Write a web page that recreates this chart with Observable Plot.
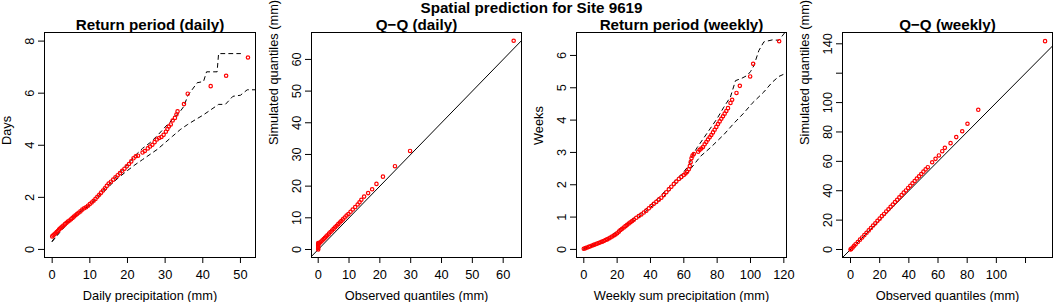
<!DOCTYPE html>
<html><head><meta charset="utf-8">
<script src="https://cdn.jsdelivr.net/npm/d3@7"></script>
<script src="https://cdn.jsdelivr.net/npm/@observablehq/plot@0.6"></script>
<style>
body{margin:0;background:#fff;}
#wrap{position:relative;width:1063px;height:302px;font-family:"Liberation Sans",Arial,sans-serif;}
#main{position:absolute;left:0;top:0;width:1063px;text-align:center;font-weight:bold;font-size:15.2px;line-height:1;z-index:5;}
.panel{position:absolute;top:0;}
</style></head><body>
<div id="wrap"></div>
<script>
// ---------- Titles / labels ----------
const mainTitle = "Spatial prediction for Site 9619";
const panelTitles = ["Return period (daily)", "Q\u2212Q (daily)", "Return period (weekly)", "Q\u2212Q (weekly)"];
const xLabels = ["Daily precipitation (mm)", "Observed quantiles (mm)", "Weekly sum precipitation (mm)", "Observed quantiles (mm)"];
const yLabels = ["Days", "Simulated quantiles (mm)", "Weeks", "Simulated quantiles (mm)"];

// ---------- Ticks ----------
const p1XTicks = [0, 10, 20, 30, 40, 50];
const p1YTicks = [0, 2, 4, 6, 8];
const p2XTicks = [0, 10, 20, 30, 40, 50, 60];
const p2YTicks = [0, 10, 20, 30, 40, 50, 60];
const p3XTicks = [0, 20, 40, 60, 80, 100, 120];
const p3YTicks = [0, 1, 2, 3, 4, 5, 6];
const p4XTicks = [0, 20, 40, 60, 80, 100, 120];
const p4XTickLabels = [0, 20, 40, 60, 80, 100];
const p4YTicks = [0, 20, 40, 60, 80, 100, 120, 140];
const p4YTickLabels = [0, 20, 40, 60, 80, 100, 140];

// ---------- Panel 1: return period (daily) ----------
const p1Precip = [0.0,0.3,0.6,0.9,1.2,1.5,1.8,2.1,2.4,2.7,3.0,3.4,3.8,4.2,4.6,5.0,5.4,5.8,6.2,6.6,7.0,7.5,8.0,8.5,9.0,9.5,10.0,10.5,11.0,11.5,12.0,12.5,13.0,13.5,14.0,14.5,15.0,15.6,16.2,16.8,17.4,18.0,18.6,19.2,19.8,20.4,21.0,21.6,22.2,22.8,24.0,24.6,25.4,26.0,26.6,27.2,27.8,28.4,29.0,29.6,30.2,30.6,31.0,31.5,32.0,32.6,33.0,33.3,35.0,36.0,42.1,46.2,52.0];
const p1Days = [0.50,0.54,0.58,0.62,0.67,0.71,0.76,0.80,0.84,0.88,0.92,0.97,1.02,1.07,1.11,1.16,1.21,1.26,1.31,1.36,1.41,1.46,1.53,1.58,1.62,1.68,1.74,1.80,1.87,1.94,2.02,2.10,2.18,2.26,2.35,2.44,2.53,2.60,2.68,2.77,2.85,2.93,3.02,3.10,3.19,3.28,3.38,3.50,3.58,3.60,3.72,3.78,3.88,3.95,4.02,4.12,4.22,4.28,4.32,4.40,4.52,4.62,4.72,4.80,4.95,5.05,5.18,5.30,5.58,5.98,6.27,6.67,7.37];
const p1UpperX = [0,2,4,6,8,10,12,14,16,18,20,22,24,26,28,30,32,34,35,36,38.5,40.2,41,43.8,44.2,50];
const p1UpperY = [0.32,0.70,1.02,1.30,1.53,1.73,2.00,2.35,2.65,2.95,3.25,3.60,3.88,4.10,4.38,4.70,5.00,5.30,5.50,5.90,6.40,6.45,6.82,6.82,7.52,7.52];
const p1LowerX = [0,2,4,6,8,10,12,14,16,18,20,22,24,26,28,30,32,34,36,38,40,42,44.2,46,48,50,51.8,54];
const p1LowerY = [0.30,0.65,0.98,1.26,1.50,1.70,1.95,2.25,2.55,2.80,3.03,3.25,3.45,3.65,3.85,4.10,4.35,4.60,4.80,4.98,5.15,5.35,5.57,5.57,5.88,5.92,6.13,6.13];

// ---------- Panel 2: Q-Q (daily) ----------
const p2Obs = [0,0,0,0,0,0,0.3,0.6,1.0,1.4,1.8,2.2,2.6,3.0,3.5,4.0,4.5,5.0,5.5,6.0,6.5,7.0,7.5,8.0,8.6,9.2,9.8,10.5,11.2,12.0,12.8,13.4,14.0,14.9,16.2,17.5,18.9,21.0,24.9,29.8,63.4];
const p2Sim = [0,0.4,0.8,1.2,1.6,2.0,1.9,2.2,2.5,2.9,3.3,3.7,4.1,4.5,5.0,5.5,6.0,6.5,7.0,7.5,8.0,8.5,9.0,9.5,10.1,10.7,11.2,11.9,12.6,13.4,14.2,14.9,15.7,16.7,17.8,19.0,20.7,23.0,26.3,31.1,65.9];

// ---------- Panel 3: return period (weekly) ----------
const p3Precip = [0,1,2,3,4,5,6,7,8,9,10,11,12,13,14,15,16,17,18,19,20,21,22,23,24,25,26,27,28,29,30,31.5,33,34.5,36,37.5,39,40.5,42,43.5,45,46.5,48,49.5,51,52.5,54,55.5,57,58.5,60,61,62,63,63.6,64.1,64.6,65.2,66,68.6,69.5,70.5,71.5,72.5,73.5,74.5,75.5,76.5,77.5,78.5,79.5,80.5,81.5,82.5,83.5,84.5,85.5,86.5,88,89,91.6,93.6,99.8,101.6,117.2];
const p3Weeks = [0.02,0.04,0.06,0.08,0.10,0.12,0.14,0.16,0.18,0.20,0.22,0.24,0.26,0.29,0.31,0.34,0.37,0.40,0.43,0.46,0.50,0.55,0.60,0.64,0.68,0.72,0.76,0.80,0.84,0.88,0.92,0.98,1.03,1.08,1.14,1.20,1.27,1.34,1.41,1.47,1.54,1.60,1.68,1.77,1.86,1.94,2.02,2.10,2.18,2.24,2.30,2.35,2.40,2.48,2.58,2.70,2.82,2.90,2.95,3.02,3.08,3.12,3.17,3.25,3.32,3.40,3.47,3.54,3.62,3.70,3.79,3.88,3.96,4.04,4.12,4.20,4.28,4.37,4.53,4.63,4.84,5.06,5.35,5.74,6.44];
const p3UpperX = [0,5,10,15,20,25,30,35,40,45,50,55,60,63,65,68,72,76,80,84,88,91,95,98,100,102,105,108,113,117,119,122];
const p3UpperY = [0.03,0.13,0.25,0.38,0.56,0.77,0.97,1.15,1.37,1.60,1.87,2.14,2.40,2.60,2.90,3.15,3.45,3.75,4.05,4.40,4.72,5.22,5.30,5.38,5.50,5.68,6.15,6.42,6.48,6.47,6.60,6.80];
const p3LowerX = [0,5,10,15,20,25,30,35,40,45,50,55,60,63,66,70,76,84,90,96,101,108,113,117,120,122];
const p3LowerY = [0.00,0.10,0.19,0.31,0.45,0.68,0.88,1.08,1.30,1.50,1.74,2.02,2.25,2.42,2.62,2.88,3.15,3.55,3.90,4.22,4.52,4.87,5.17,5.35,5.42,5.50];

// ---------- Panel 4: Q-Q (weekly) ----------
const p4Obs = [0,0.5,1.5,2.5,3.5,5,6.5,8,9.5,11,12.5,14,15.5,17,18.5,20,21.5,23,24.5,26,27.5,29,30.5,32,33.5,35,36.5,38,39.5,41,42.5,44,45.5,47,48.5,50,51.5,53,56,58.3,60.6,62.9,64.7,68.6,72.5,76.6,80.2,87.6,133.4];
const p4Sim = [0,0.4,1.4,2.5,3.6,5.1,6.7,8.2,9.8,11.4,13.0,14.6,16.3,17.8,19.5,21.0,22.7,24.2,25.9,27.4,29.1,30.6,32.3,33.8,35.5,37.0,38.7,40.2,41.9,43.4,45.1,46.6,48.3,49.8,51.4,53.0,54.5,56.0,59.4,61.7,64.0,66.9,69.2,72.4,76.5,80.5,85.6,95.1,141.8];

// reference 1:1 line span (clipped to the frame)
const refLine = [-20, 200];

const zip = (xs, ys) => xs.map((x, i) => ({x, y: ys[i]}));
const dashed = (xs, ys) => Plot.line(zip(xs, ys), {x: "x", y: "y", stroke: "black", strokeWidth: 1, strokeDasharray: "4,4", clip: true});
const redDots = (xs, ys) => Plot.dot(zip(xs, ys), {x: "x", y: "y", r: 1.7, stroke: "red", strokeWidth: 1.2, fill: "none"});
const oneToOne = () => Plot.line(refLine, {x: d => d, y: d => d, stroke: "black", strokeWidth: 1, clip: true});

function panel(o) {
  const fmt = labels => d => labels.includes(d) ? String(d) : "";
  const svg = Plot.plot({
    width: o.width, height: 302,
    marginLeft: o.ml, marginRight: o.mr, marginTop: 32, marginBottom: 45,
    style: {fontFamily: "Liberation Sans, Arial, sans-serif", fontSize: "12.8px", color: "black", background: "transparent", overflow: "visible"},
    x: {domain: o.xDomain, ticks: o.xTicks, tickFormat: fmt(o.xTickLabels || o.xTicks), tickSize: 6, tickPadding: 6, label: null},
    y: {domain: o.yDomain, ticks: o.yTicks, tickFormat: fmt(o.yTickLabels || o.yTicks), tickSize: 6, tickPadding: 4.7, tickRotate: -90, label: null},
    marks: [
      ...o.marks,
      Plot.frame({stroke: "black", strokeWidth: 1}),
      Plot.text([o.title], {text: d => d, frameAnchor: "top", dy: -3, lineAnchor: "bottom", fontWeight: "bold", fontSize: 15.2}),
      Plot.text([o.xlab], {text: d => d, frameAnchor: "bottom", dy: 42, lineAnchor: "bottom"}),
      Plot.text([o.ylab], {text: d => d, frameAnchor: "left", dx: -34, rotate: -90, lineAnchor: "bottom"})
    ]
  });
  svg.classList.add("panel");
  svg.style.left = o.left + "px";
  document.getElementById("wrap").appendChild(svg);
}

panel({left: 0, width: 265, ml: 44, mr: 10,
  xDomain: [-2.04, 54.0], yDomain: [-0.31, 8.33], xTicks: p1XTicks, yTicks: p1YTicks,
  title: panelTitles[0], xlab: xLabels[0], ylab: yLabels[0],
  marks: [dashed(p1UpperX, p1UpperY), dashed(p1LowerX, p1LowerY), redDots(p1Precip, p1Days)]});

panel({left: 265, width: 265, ml: 46, mr: 9,
  xDomain: [-2.17, 65.94], yDomain: [-2.53, 68.5], xTicks: p2XTicks, yTicks: p2YTicks,
  title: panelTitles[1], xlab: xLabels[1], ylab: yLabels[1],
  marks: [oneToOne(), redDots(p2Obs, p2Sim)]});

panel({left: 530, width: 265, ml: 46, mr: 9,
  xDomain: [-4.38, 121.6], yDomain: [-0.25, 6.71], xTicks: p3XTicks, yTicks: p3YTicks,
  title: panelTitles[2], xlab: xLabels[2], ylab: yLabels[2],
  marks: [dashed(p3UpperX, p3UpperY), dashed(p3LowerX, p3LowerY), redDots(p3Precip, p3Weeks)]});

panel({left: 795, width: 268, ml: 47, mr: 11,
  xDomain: [-5.49, 138.5], yDomain: [-5.45, 147.7], xTicks: p4XTicks, xTickLabels: p4XTickLabels,
  yTicks: p4YTicks, yTickLabels: p4YTickLabels,
  title: panelTitles[3], xlab: xLabels[3], ylab: yLabels[3],
  marks: [oneToOne(), redDots(p4Obs, p4Sim)]});

const m = document.createElement("div");
m.id = "main";
m.textContent = mainTitle;
document.getElementById("wrap").appendChild(m);
</script>
</body></html>
